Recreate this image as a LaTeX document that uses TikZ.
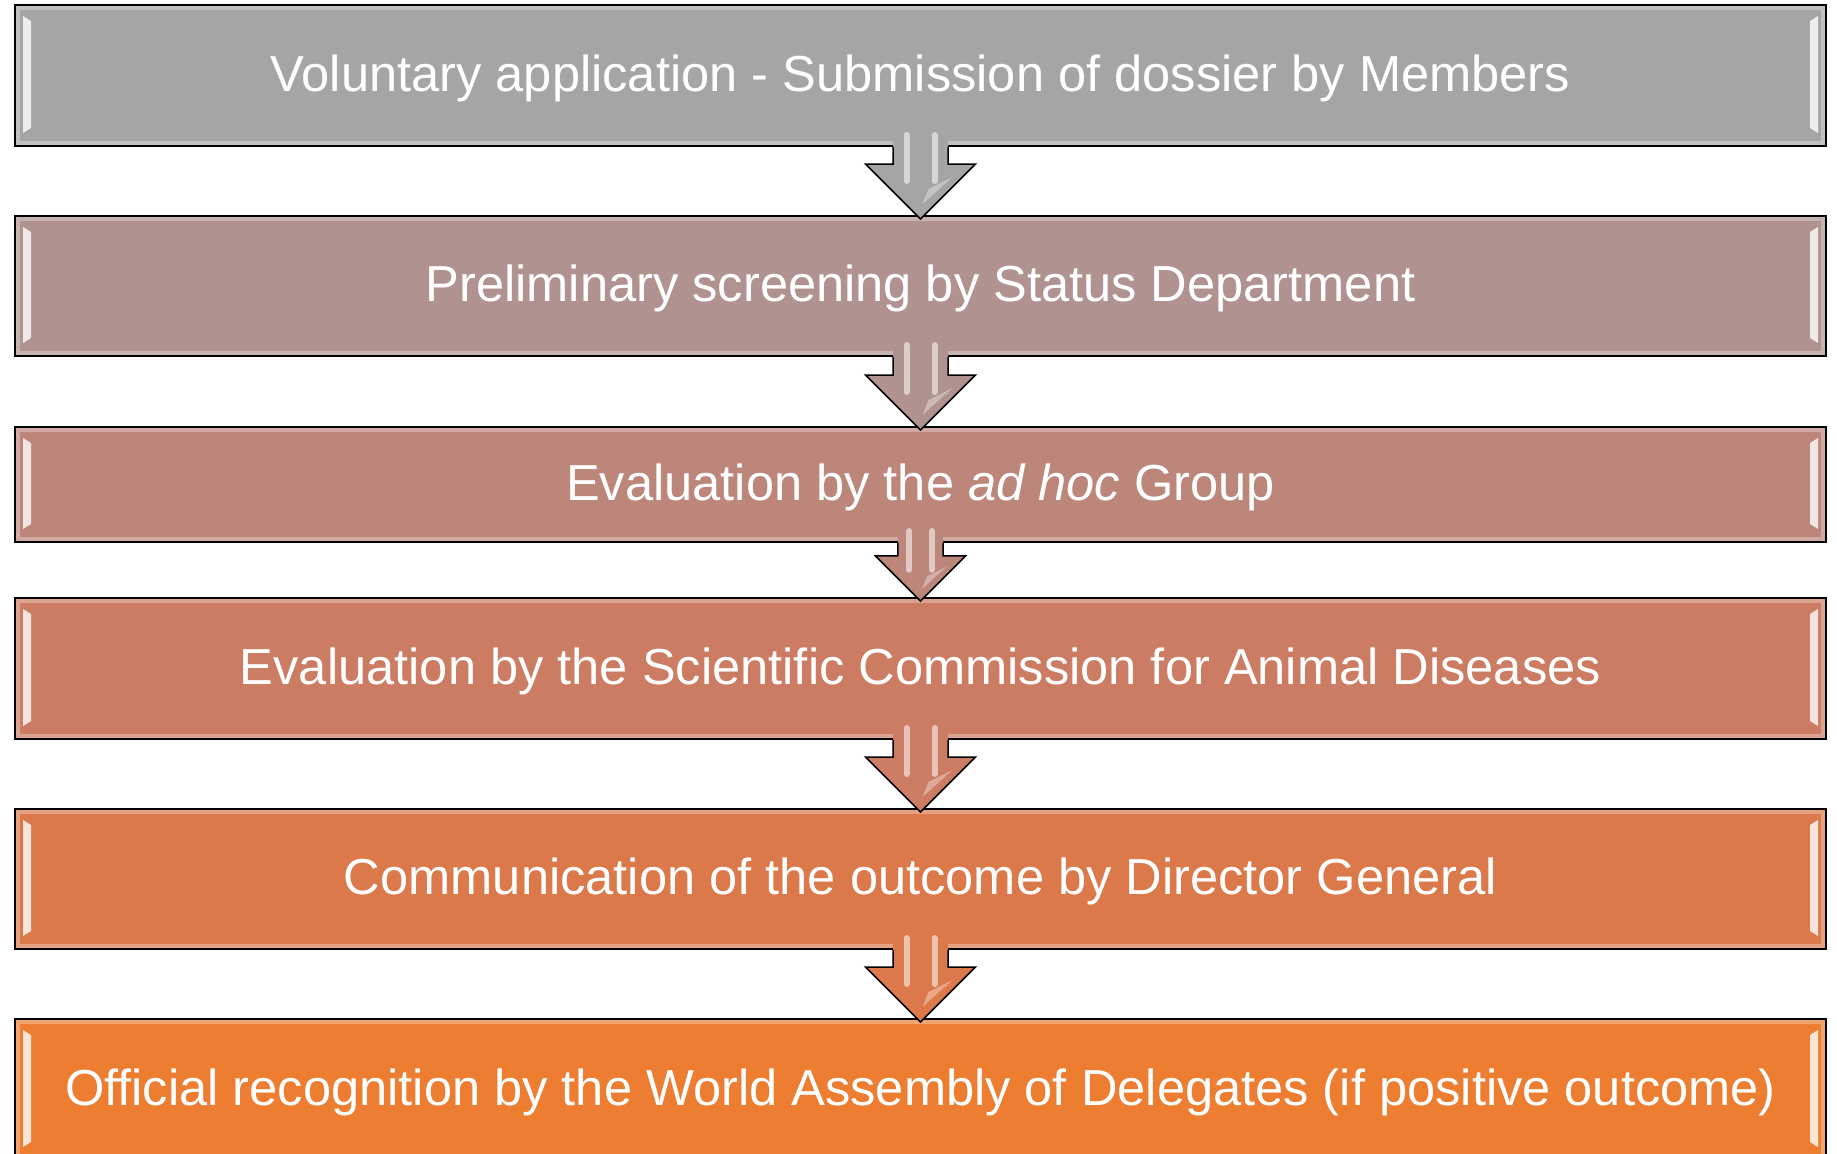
\documentclass[tikz,border=0pt]{standalone}
\usepackage{fontspec}
\setmainfont{Liberation Sans}
\usetikzlibrary{calc}

\definecolor{st1}{RGB}{165,165,165}
\definecolor{st2}{RGB}{176,147,145}
\definecolor{st3}{RGB}{189,134,123}
\definecolor{st4}{RGB}{204,124,99}
\definecolor{st5}{RGB}{220,121,74}
\definecolor{st6}{RGB}{237,125,49}

\tikzset{
	stage/.style={draw=black, line width=2pt, minimum width=1811pt, inner sep=0pt,
		text height=36pt, text depth=5pt,
		text=white, font=\fontsize{50.6}{60}\selectfont,
		path picture={
			\draw[white, opacity=.3, line width=10pt] (path picture bounding box.south west) rectangle (path picture bounding box.north east);
			\fill[white, opacity=.8] ($(path picture bounding box.north west)+(8,11)$) -- ($(path picture bounding box.north west)+(16,16)$) -- ($(path picture bounding box.south west)+(16,-18)$) -- ($(path picture bounding box.south west)+(8,-13)$) -- cycle;
			\fill[white, opacity=.8] ($(path picture bounding box.north east)+(-8,11)$) -- ($(path picture bounding box.north east)+(-16,16)$) -- ($(path picture bounding box.south east)+(-16,-18)$) -- ($(path picture bounding box.south east)+(-8,-13)$) -- cycle;
		}},
	shine/.style={white, opacity=.55, line width=6pt, line cap=round}
}

% #1 size, #2 upper box, #3 lower box, #4 colour
\newcommand{\steparrow}[4][1]{
	\fill[#4] ($(#2.south)+({-27.5*#1},-15)$) -- ($(#3.north)+({-27.5*#1},{4-55*#1})$) -- ($(#3.north)+({-55*#1},{4-55*#1})$) -- ($(#3.north)+(0,4)$) -- ($(#3.north)+({55*#1},{4-55*#1})$) -- ($(#3.north)+({27.5*#1},{4-55*#1})$) -- ($(#2.south)+({27.5*#1},-15)$) -- cycle;
	\draw[shine] ($(#2.south)+({-14*#1},-12)$) -- ($(#3.north)+({-14*#1},{4-38*#1})$);
	\draw[shine] ($(#2.south)+({14*#1},-12)$) -- ($(#3.north)+({14*#1},{4-38*#1})$);
	\fill[white, opacity=.35] ($(#3.north)+({2*#1},{4-15*#1})$) -- ($(#3.north)+({32*#1},{4-42*#1})$) -- ($(#3.north)+({8*#1},{4-30*#1})$) -- cycle;
	\draw[black, line width=1.5pt] ($(#2.south)+({-27.5*#1},0)$) -- ($(#3.north)+({-27.5*#1},{4-55*#1})$) -- ($(#3.north)+({-55*#1},{4-55*#1})$) -- ($(#3.north)+(0,4)$) -- ($(#3.north)+({55*#1},{4-55*#1})$) -- ($(#3.north)+({27.5*#1},{4-55*#1})$) -- ($(#2.south)+({27.5*#1},0)$);
}

\begin{document}
\begin{tikzpicture}[x=1pt, y=-1pt]
	\useasboundingbox (0,0) rectangle (1837,1154);
	\fill[white] (0,0) rectangle (1837,1154);
	\node (1)[stage, fill=st1, minimum height=141pt] at (920.5,75.5) {Voluntary application - Submission of dossier by Members};
	\node (2)[stage, fill=st2, minimum height=140pt] at (920.5,286) {Preliminary screening by Status Department};
	\node (3)[stage, fill=st3, minimum height=115pt] at (920.5,484.5) {Evaluation by the \textit{ad hoc} Group};
	\node (4)[stage, fill=st4, minimum height=141pt] at (920.5,668.5) {Evaluation by the Scientific Commission for Animal Diseases};
	\node (5)[stage, fill=st5, minimum height=140pt] at (920.5,879) {Communication of the outcome by Director General};
	\node (6)[stage, fill=st6, minimum height=141pt] at (920.5,1089.5) {Official recognition by the World Assembly of Delegates (if positive outcome)};
	\steparrow{1}{2}{st1}
	\steparrow{2}{3}{st2}
	\steparrow[0.82]{3}{4}{st3}
	\steparrow{4}{5}{st4}
	\steparrow{5}{6}{st5}
\end{tikzpicture}
\end{document}
